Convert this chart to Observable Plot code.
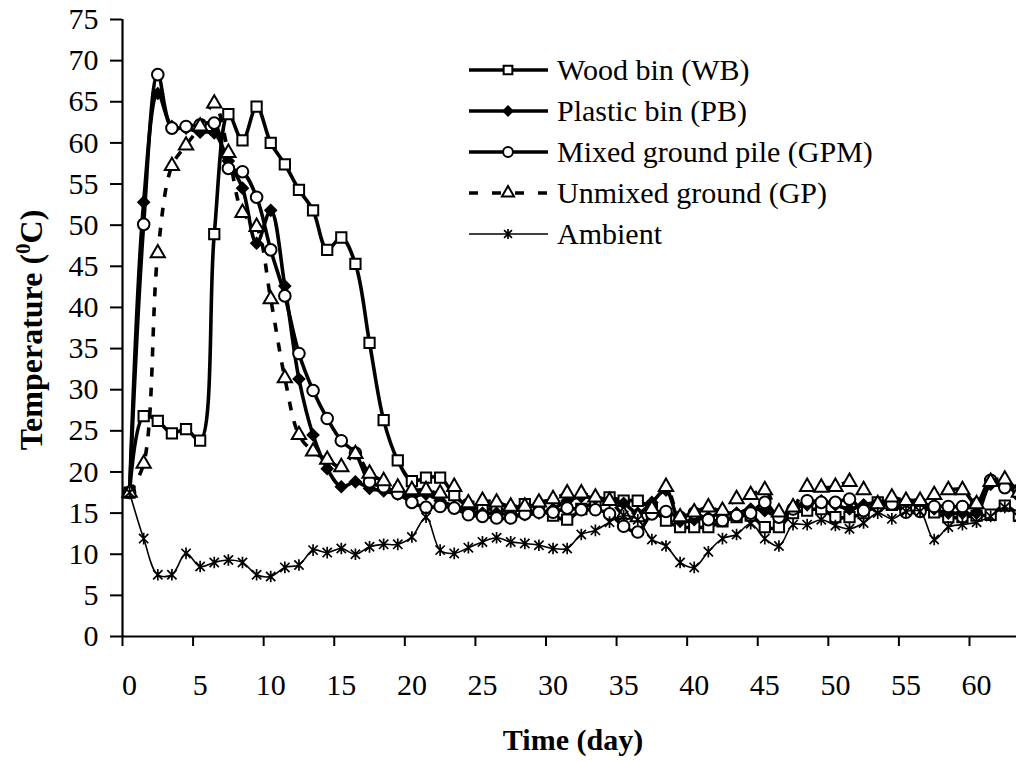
<!DOCTYPE html>
<html>
<head>
<meta charset="utf-8">
<script src="https://cdn.jsdelivr.net/npm/d3@7"></script>
<script src="https://cdn.jsdelivr.net/npm/@observablehq/plot@0.6"></script>
<style>
  html, body { margin: 0; padding: 0; background: #fff; }
  #chart svg { display: block; }
</style>
</head>
<body>
<div id="chart"></div>
<script>
// ---- Data (day index 0..63) ----
const days = [0,1,2,3,4,5,6,7,8,9,10,11,12,13,14,15,16,17,18,19,20,21,22,23,24,25,26,27,28,29,30,31,32,33,34,35,36,37,38,39,40,41,42,43,44,45,46,47,48,49,50,51,52,53,54,55,56,57,58,59,60,61,62,63];

const woodBin = [17.5,26.8,26.2,24.7,25.2,23.8,48.9,63.5,60.3,64.4,60.0,57.4,54.3,51.8,47.0,48.5,45.3,35.7,26.3,21.4,18.9,19.3,19.3,17.2,15.8,15.5,15.5,15.3,16.1,15.5,14.7,14.2,15.5,16.3,16.9,16.5,16.5,15.5,14.1,13.3,13.3,13.3,14.0,14.5,14.7,13.3,13.3,15.0,15.3,15.5,14.5,14.5,15.0,16.3,16.0,16.0,16.0,15.1,14.5,14.5,14.7,14.8,15.9,14.7];

const plasticBin = [17.5,52.8,66.0,62.0,61.8,61.3,61.2,57.8,54.5,47.8,51.8,42.6,31.3,24.5,20.4,18.2,18.8,18.0,17.7,17.3,17.0,17.3,16.5,15.8,15.3,15.0,15.0,14.8,14.8,15.0,15.5,16.5,17.0,16.8,16.5,16.2,15.0,16.3,17.8,14.0,14.2,14.5,15.0,15.0,15.5,15.3,14.5,15.5,16.0,16.5,16.0,15.5,16.0,16.3,16.5,16.5,16.5,15.5,15.0,15.0,15.0,18.5,18.5,17.0];

const mixedPile = [17.5,50.1,68.3,61.8,62.0,62.2,62.4,56.9,56.5,53.4,47.0,41.4,34.4,29.9,26.5,23.8,22.3,18.8,18.2,17.4,16.3,15.7,15.8,15.6,14.8,14.6,14.4,14.4,14.9,15.1,15.1,15.6,15.4,15.4,14.9,13.4,12.7,14.9,15.2,14.5,15.0,14.2,14.1,14.7,15.0,16.3,14.5,15.5,16.5,16.3,16.3,16.7,15.3,15.8,16.1,15.1,15.2,15.8,15.8,15.8,16.1,19.0,18.1,17.8];

const unmixedGround = [17.5,21.0,46.6,57.2,59.7,62.0,64.8,58.8,51.5,49.8,41.0,31.4,24.5,22.5,21.5,20.6,22.2,19.8,18.9,18.1,17.8,17.8,17.4,18.2,16.2,16.5,16.3,15.8,15.8,16.3,16.7,17.4,17.4,16.9,16.5,14.8,14.5,15.5,18.2,14.5,15.1,15.7,15.3,16.7,17.2,17.8,15.1,15.7,18.2,18.1,18.2,18.8,17.8,16.1,16.9,16.5,16.5,17.2,17.8,17.8,16.1,18.8,19.1,17.5];

const ambient = [17.5,11.9,7.5,7.5,10.1,8.5,9.0,9.3,9.0,7.5,7.3,8.4,8.7,10.5,10.2,10.7,10.0,10.9,11.2,11.2,12.1,14.5,10.5,10.1,10.8,11.5,12.0,11.5,11.3,11.1,10.7,10.7,12.4,12.9,13.9,14.7,14.2,11.8,11.0,9.0,8.4,10.3,11.9,12.4,13.7,11.9,11.0,13.6,13.6,14.2,13.5,13.1,13.8,15.0,14.3,15.2,15.2,11.8,13.3,13.6,13.9,14.6,15.7,14.5];

const seriesNames = ["Wood bin (WB)", "Plastic bin (PB)", "Mixed ground pile (GPM)", "Unmixed ground (GP)", "Ambient"];
const xTickLabels = [0,5,10,15,20,25,30,35,40,45,50,55,60];
const yTickLabels = [0,5,10,15,20,25,30,35,40,45,50,55,60,65,70,75];
const xTitle = "Time (day)";
const yTitleParts = ["Temperature (", "0", "C)"];

// ---- Styling ----
const FONT = "'Liberation Serif','Times New Roman',Times,serif";

// Excel-like star marker: an X plus a vertical bar
const starSymbol = {
  draw(ctx, size) {
    const r = Math.sqrt(size / Math.PI);
    const u = r * 0.8;
    ctx.moveTo(-u, -u); ctx.lineTo(u, u);
    ctx.moveTo(-u, u); ctx.lineTo(u, -u);
    ctx.moveTo(0, -r); ctx.lineTo(0, r);
  }
};

const styles = [
  {name: seriesNames[0], values: woodBin,       width: 3.6, dash: null,   symbol: "square",   r: 5.8, fill: "white", mw: 2},
  {name: seriesNames[1], values: plasticBin,    width: 3.6, dash: null,   symbol: "diamond2", r: 5.2, fill: "black", mw: 1.5},
  {name: seriesNames[2], values: mixedPile,     width: 3.6, dash: null,   symbol: "circle",   r: 5.8, fill: "white", mw: 2},
  {name: seriesNames[3], values: unmixedGround, width: 3.6, dash: "9,11", symbol: "triangle", r: 5.3, fill: "white", mw: 2},
  {name: seriesNames[4], values: ambient,       width: 1.6, dash: null,   symbol: starSymbol, r: 5.8, fill: "none",  mw: 1.7}
];

const seriesMarks = [];
for (const s of styles) {
  const rows = days.map((d, i) => ({day: d, temp: s.values[i]}));
  seriesMarks.push(Plot.line(rows, {
    x: "day", y: "temp", curve: "catmull-rom",
    stroke: "black", strokeWidth: s.width,
    strokeDasharray: s.dash ?? undefined,
    strokeLinejoin: "round", strokeLinecap: s.dash ? "butt" : "round"
  }));
  seriesMarks.push(Plot.dot(rows, {
    x: "day", y: "temp", symbol: s.symbol, r: s.r,
    fill: s.fill, stroke: "black", strokeWidth: s.mw
  }));
}

const chart = Plot.plot({
  width: 1016,
  height: 762,
  marginLeft: 122,
  marginRight: 0,
  marginTop: 19,
  marginBottom: 126,
  x: {domain: [-0.5, 62.83]},
  y: {domain: [0, 75]},
  style: {fontFamily: FONT, fontSize: "30px", color: "black", background: "white", overflow: "visible"},
  marks: [
    Plot.axisY({ticks: yTickLabels, tickSize: 12, tickPadding: 12, strokeWidth: 2, label: null, fontSize: 30}),
    Plot.axisX({ticks: xTickLabels.map(d => d - 0.5), tickSize: 10, strokeWidth: 2, tickFormat: () => "", label: null}),
    Plot.axisX({ticks: xTickLabels, tickSize: 0, tickPadding: 37, label: null, fontSize: 30}),
    Plot.ruleY([0], {stroke: "black", strokeWidth: 2.2}),
    Plot.ruleX([-0.5], {stroke: "black", strokeWidth: 2.2}),
    ...seriesMarks
  ]
});

document.getElementById("chart").appendChild(chart);

// ---- Titles and legend (added to the same SVG) ----
const svg = d3.select(chart);

svg.append("text")
  .attr("x", 573).attr("y", 750)
  .attr("text-anchor", "middle")
  .attr("font-family", FONT).attr("font-weight", "bold").attr("font-size", 30)
  .text(xTitle);

const yt = svg.append("text")
  .attr("transform", "translate(42,330) rotate(-90)")
  .attr("text-anchor", "middle")
  .attr("font-family", FONT).attr("font-weight", "bold").attr("font-size", 32);
yt.append("tspan").text(yTitleParts[0]);
yt.append("tspan").attr("dy", -12).attr("font-size", 21).text(yTitleParts[1]);
yt.append("tspan").attr("dy", 12).text(yTitleParts[2]);

const legend = svg.append("g").attr("text-anchor", "start");
const rowY = [70, 111, 152, 193, 234];
styles.forEach((s, i) => {
  const g = legend.append("g").attr("transform", `translate(0,${rowY[i]})`);
  g.append("line")
    .attr("x1", 469).attr("x2", 548).attr("y1", 0).attr("y2", 0)
    .attr("stroke", "black").attr("stroke-width", s.width)
    .attr("stroke-dasharray", s.dash ? "9,14" : null);
  const symType = typeof s.symbol === "string"
    ? ({square: d3.symbolSquare, diamond2: d3.symbolDiamond2, triangle: d3.symbolTriangle})[s.symbol]
    : s.symbol;
  if (s.symbol === "circle") {
    g.append("circle").attr("cx", 508).attr("cy", 0).attr("r", s.r * 0.85)
      .attr("fill", s.fill).attr("stroke", "black").attr("stroke-width", s.mw);
  } else {
    g.append("path")
      .attr("transform", "translate(508,0)")
      .attr("d", d3.symbol(symType, Math.PI * s.r * s.r * 0.72)())
      .attr("fill", s.fill).attr("stroke", "black").attr("stroke-width", s.mw);
  }
  g.append("text")
    .attr("x", 557).attr("y", 0).attr("dy", "0.34em")
    .attr("text-anchor", "start")
    .attr("font-family", FONT).attr("font-size", 30)
    .text(s.name);
});
</script>
</body>
</html>
